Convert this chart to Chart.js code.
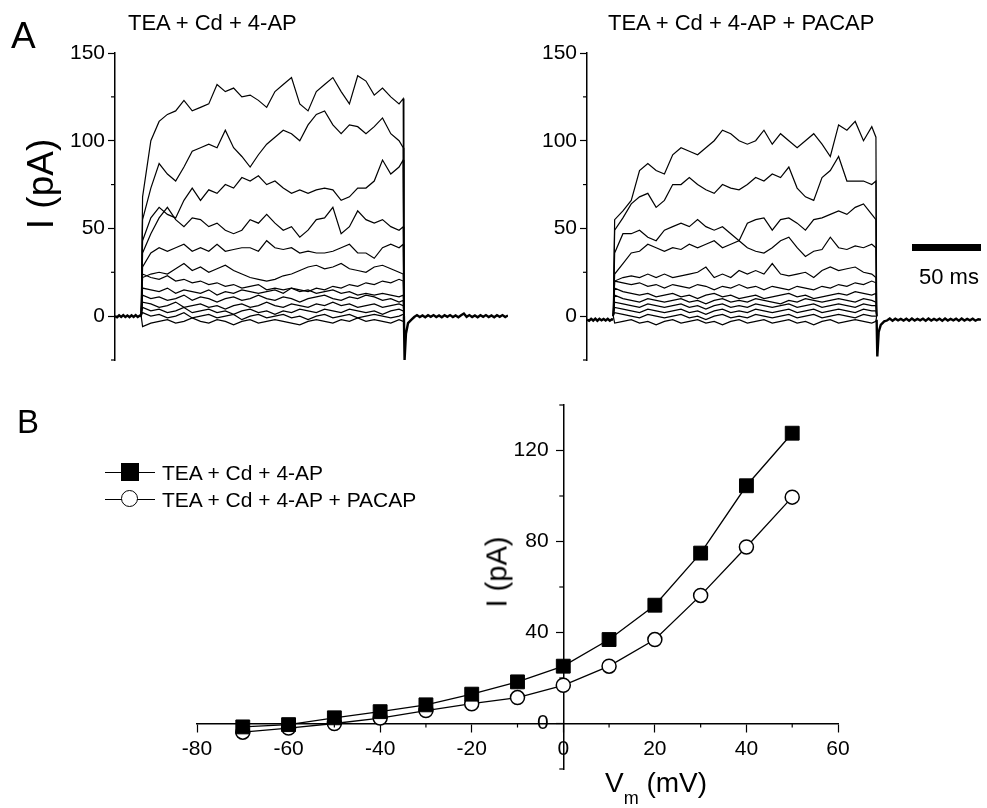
<!DOCTYPE html>
<html>
<head>
<meta charset="utf-8">
<script src="https://cdn.jsdelivr.net/npm/chart.js@4.4.1/dist/chart.umd.min.js"></script>
<style>
  body { margin: 0; background: #fff; }
  #fig { position: relative; width: 987px; height: 808px; overflow: hidden;
         font-family: "Liberation Sans", Arial, Helvetica, sans-serif; color: #000; }
  canvas { position: absolute; }
  .t { position: absolute; line-height: 1; white-space: nowrap; transform: translateY(-50%); }
  .rot { position: absolute; line-height: 1; white-space: nowrap; transform: translate(-50%, -50%) rotate(-90deg); }
  .leg-line { position: absolute; height: 0; border-top: 1.3px solid #000; }
</style>
</head>
<body>
<div id="fig">
  <canvas id="traceA" width="520" height="380" style="left:0;top:0"></canvas>
  <canvas id="traceB" width="447" height="380" style="left:540px;top:0"></canvas>
  <canvas id="ivPlot" width="987" height="428" style="left:0;top:380px"></canvas>

  <div class="t" style="left:11px;top:35px;font-size:37px">A</div>
  <div class="t" style="left:17px;top:421px;font-size:33px">B</div>
  <div class="t" style="left:128px;top:23px;font-size:22px">TEA + Cd + 4-AP</div>
  <div class="t" style="left:608px;top:23px;font-size:22px">TEA + Cd + 4-AP + PACAP</div>
  <div class="rot" style="left:40px;top:184px;font-size:37px">I (pA)</div>

  <div style="position:absolute;left:912px;top:244px;width:69px;height:7px;background:#000"></div>
  <div class="t" style="left:919px;top:277px;font-size:22px">50 ms</div>

  <div class="leg-line" style="left:105px;top:472px;width:50px"></div>
  <div style="position:absolute;left:121px;top:463px;width:18px;height:18px;background:#000"></div>
  <div class="t" style="left:162px;top:472px;font-size:21px">TEA + Cd + 4-AP</div>
  <div class="leg-line" style="left:105px;top:499px;width:50px"></div>
  <div style="position:absolute;left:121px;top:490px;width:15px;height:15px;border:1.5px solid #000;border-radius:50%;background:#fff"></div>
  <div class="t" style="left:162px;top:499px;font-size:21px">TEA + Cd + 4-AP + PACAP</div>

  <div class="rot" style="left:497px;top:572px;font-size:29px">I (pA)</div>
  <div class="t" style="left:605px;top:783px;font-size:28px">V<span style="font-size:18px;position:relative;top:12px">m</span> (mV)</div>
</div>

<script>
// ---- panel A: current traces (time in ms, current in pA) ----
var onsetTime = 19;
var offsetTime = 209.5;
var stepTimes = [20, 26, 32, 38, 44, 50, 56, 62, 68, 74, 80, 86, 92, 98, 104, 110, 116,
                 122, 128, 134, 140, 146, 152, 158, 164, 170, 176, 182, 188, 194, 200, 206, 209];
var preTimes = [0, 1.5, 3, 4.5, 6, 7.5, 9, 10.5, 12, 13.5, 15, 16.5, 18, 19];
var postTimes = [209.5, 210, 211, 212.5, 215, 217, 219, 221, 223, 225, 227, 229, 231, 233, 235, 237, 239, 241, 243, 245,
                 247, 249, 251, 253, 255, 257, 259, 261, 263, 265, 267, 269, 271, 273, 275, 277, 279, 281, 283, 285];

// TEA + Cd + 4-AP
var tea1 = [68, 100, 111, 115, 117, 123, 117, 119, 121, 132, 128, 130, 125, 126, 123, 119, 128, 132, 136, 121, 117, 128, 132, 136, 128, 121, 137, 134, 126, 130, 125, 121, 124];
var tea2 = [55, 73, 87, 81, 77, 85, 94, 96, 98, 96, 106, 96, 91, 85, 92, 98, 102, 106, 104, 100, 109, 115, 117, 109, 104, 109, 108, 104, 108, 113, 104, 100, 96];
var tea3 = [43, 56, 62, 58, 56, 66, 73, 66, 72, 70, 75, 73, 79, 77, 80, 75, 77, 73, 70, 72, 70, 72, 73, 72, 66, 68, 73, 73, 77, 89, 81, 85, 89];
var tea4 = [36, 47, 56, 62, 55, 51, 56, 55, 51, 53, 49, 47, 49, 55, 53, 58, 53, 49, 51, 45, 49, 55, 56, 62, 47, 51, 60, 55, 53, 55, 51, 49, 51];
var tea5 = [28, 36, 39, 37, 39, 41, 37, 39, 37, 41, 37, 38, 39, 39, 37, 43, 39, 38, 39, 36, 37, 36, 36, 37, 39, 41, 36, 36, 33, 39, 41, 39, 41];
var tea6 = [22, 24, 25, 24, 27, 30, 26, 28, 25, 27, 29, 26, 24, 22, 21, 20, 21, 23, 24, 26, 28, 29, 27, 28, 30, 27, 26, 25, 28, 29, 27, 25, 24];
var tea7 = [24, 22, 21, 23, 20, 21, 19, 20, 18, 19, 17, 18, 16, 17, 18, 15, 16, 15, 16, 14, 15, 13, 14, 15, 13, 14, 12, 13, 12, 13, 12, 11, 12];
var tea8 = [16, 15, 14, 16, 13, 15, 14, 13, 15, 12, 14, 13, 15, 14, 13, 14, 15, 13, 16, 15, 14, 16, 15, 17, 16, 18, 17, 19, 18, 20, 19, 21, 20];
var tea9 = [12, 10, 11, 9, 10, 12, 9, 11, 10, 8, 10, 11, 9, 10, 12, 10, 9, 11, 10, 8, 10, 11, 12, 10, 9, 11, 10, 12, 11, 9, 10, 8, 9];
var tea10 = [8, 7, 5, 6, 8, 5, 6, 7, 5, 6, 4, 6, 7, 5, 6, 8, 6, 5, 7, 6, 5, 7, 6, 8, 6, 7, 5, 6, 7, 5, 6, 7, 6];
var tea11 = [5, 3, 4, 2, 3, 5, 2, 3, 4, 2, 3, 1, 3, 4, 2, 3, 1, 3, 2, 4, 3, 2, 4, 3, 2, 4, 3, 2, 3, 1, 3, 4, 3];
var tea12 = [2, 0, 1, -1, 0, 2, -1, 0, 1, -1, 0, 1, -2, 0, 1, -1, 0, 1, -1, 0, -2, 0, 1, -1, 0, 1, -1, 0, 1, 0, -1, 0, 1];
var tea13 = [-6, -4, -3, -2, -4, -3, -1, -3, -4, -2, -3, -5, -3, -2, -4, -3, -2, -3, -4, -5, -3, -2, -3, -4, -2, -3, -1, -3, -2, -3, -4, -2, -3];
var teaPre = [0, -0.6, 0.5, -0.4, 0.6, -0.5, 0.4, -0.6, 0.5, -0.4, 0.6, -0.5, 0.3, 0];
var teaPost = [0, -25, -10, -4, -2, -0.5, 0.6, -0.5, 0.4, -0.6, 0.5, -0.4, 0.6, -0.5, 0.4, -0.6, 0.5, -0.4, 0.6, -0.5,
               0.4, -0.6, 0.5, 1.5, -0.4, 0.6, -0.5, 0.4, -0.6, 0.5, -0.4, 0.6, -0.5, 0.4, -0.6, 0.5, -0.4, 0.6, -0.5, 0.4];

// TEA + Cd + 4-AP + PACAP
var pac1 = [55, 60, 66, 83, 87, 83, 81, 92, 96, 94, 92, 96, 100, 106, 104, 100, 98, 100, 106, 98, 104, 100, 96, 100, 104, 98, 91, 109, 106, 111, 100, 108, 102];
var pac2 = [49, 56, 64, 68, 70, 62, 66, 75, 75, 79, 75, 72, 70, 75, 73, 72, 75, 79, 77, 81, 79, 85, 73, 68, 66, 79, 83, 91, 77, 77, 77, 75, 77];
var pac3 = [36, 47, 47, 49, 45, 43, 49, 51, 53, 51, 55, 51, 49, 51, 47, 43, 53, 55, 56, 49, 55, 56, 53, 49, 55, 56, 58, 60, 58, 62, 64, 58, 55];
var pac4 = [24, 30, 36, 37, 41, 39, 37, 39, 38, 41, 39, 41, 43, 39, 41, 43, 39, 37, 36, 39, 43, 45, 39, 34, 37, 38, 45, 39, 38, 40, 39, 41, 39];
var pac5 = [20, 22, 23, 22, 24, 22, 24, 22, 23, 24, 25, 28, 22, 24, 22, 26, 24, 26, 24, 30, 24, 23, 24, 25, 22, 26, 28, 26, 27, 28, 25, 24, 22];
var pac6 = [20, 19, 18, 19, 17, 18, 16, 18, 17, 16, 18, 17, 15, 17, 16, 18, 16, 17, 15, 17, 16, 15, 17, 16, 15, 17, 16, 18, 17, 19, 18, 20, 19];
var pac7 = [16, 14, 13, 12, 13, 11, 12, 13, 11, 12, 10, 12, 13, 11, 12, 10, 11, 12, 10, 11, 12, 13, 11, 12, 10, 11, 12, 13, 12, 14, 13, 12, 13];
var pac8 = [12, 10, 9, 8, 10, 9, 8, 9, 10, 8, 9, 7, 9, 10, 8, 9, 8, 10, 9, 8, 7, 9, 8, 10, 9, 8, 9, 10, 9, 8, 10, 9, 8];
var pac9 = [8, 7, 6, 5, 7, 6, 5, 6, 7, 5, 6, 4, 6, 7, 5, 6, 5, 7, 6, 5, 6, 7, 5, 6, 7, 5, 6, 7, 6, 5, 7, 6, 6];
var pac10 = [5, 4, 3, 2, 4, 3, 2, 3, 4, 2, 3, 1, 3, 4, 2, 3, 2, 4, 3, 2, 3, 4, 2, 3, 4, 2, 3, 4, 3, 2, 4, 3, 3];
var pac11 = [2, 1, 0, -1, 1, 0, -1, 0, 1, -1, 0, -2, 0, 1, -1, 0, -1, 1, 0, -1, 0, 1, -1, 0, 1, -1, 0, 1, 0, -1, 1, 0, 0];
var pac12 = [-4, -3, -2, -4, -3, -5, -3, -2, -4, -3, -2, -4, -3, -5, -3, -2, -4, -3, -2, -4, -3, -2, -4, -3, -5, -3, -2, -4, -3, -2, -3, -4, -3];
var pacPre = [-2, -2.6, -1.5, -2.5, -1.4, -2.6, -1.5, -2.4, -1.6, -2.5, -1.5, -2.6, -1.8, -2];
var pacPost = [-2, -23, -9, -5, -3, -2.5, -1.4, -2.6, -1.5, -2.4, -1.6, -2.5, -1.5, -2.6, -1.4, -2.5, -1.6, -2.4, -1.5, -2.6,
               -1.4, -2.5, -1.6, -2.4, -1.5, -2.6, -1.4, -2.5, -1.6, -2.4, -1.5, -2.6, -1.4, -2.5, -1.6, -2.4, -1.5, -2.6, -1.8, -2];

var traceTicks = [0, 50, 100, 150];

// ---- panel B: I-V relation ----
var vm = [-70, -60, -50, -40, -30, -20, -10, 0, 10, 20, 30, 40, 50];
var teaIV = [-1.5, -0.5, 2.5, 5.2, 8.2, 12.9, 18.3, 25.2, 36.9, 52, 74.9, 104.5, 127.6];
var pacapIV = [-3.8, -2, 0, 2.4, 5.7, 8.7, 11.4, 16.8, 25.2, 36.9, 56.3, 77.6, 99.5];

var FONT = '"Liberation Sans", Arial, Helvetica, sans-serif';

// short minor ticks, drawn after the chart
var minorTicks = {
  id: 'minorTicks',
  afterDraw: function (chart, args, opts) {
    var ctx = chart.ctx;
    ctx.save();
    ctx.strokeStyle = '#000';
    ctx.lineWidth = 1.2;
    (opts.axes || []).forEach(function (a) {
      var s = chart.scales[a.id];
      s.ticks.forEach(function (t) {
        if (Math.abs(t.value % a.major) < 1e-9) return;
        var p = s.getPixelForValue(t.value);
        ctx.beginPath();
        if (s.isHorizontal()) {
          var y0 = chart.scales[a.cross].getPixelForValue(0);
          ctx.moveTo(p, y0);
          ctx.lineTo(p, y0 + a.len);
        } else {
          var x0 = a.cross ? chart.scales[a.cross].getPixelForValue(0) : chart.chartArea.left;
          ctx.moveTo(x0, p);
          ctx.lineTo(x0 - a.len, p);
        }
        ctx.stroke();
      });
    });
    ctx.restore();
  }
};

function toPoints(times, vals) {
  return times.map(function (t, i) { return {x: t, y: vals[i]}; });
}

function traceChart(id, traces, pre, post, axisWidth, padRight) {
  var datasets = traces.map(function (vals) {
    return {
      data: [{x: onsetTime, y: 0}].concat(toPoints(stepTimes, vals), [{x: offsetTime, y: 0}]),
      borderColor: '#000', borderWidth: 1.2
    };
  });
  datasets.push({data: toPoints(preTimes, pre), borderColor: '#000', borderWidth: 2.4});
  datasets.push({data: toPoints(postTimes, post), borderColor: '#000', borderWidth: 2.4});

  return new Chart(document.getElementById(id), {
    type: 'line',
    data: {datasets: datasets},
    plugins: [minorTicks],
    options: {
      responsive: false,
      animation: false,
      devicePixelRatio: 1,
      layout: {padding: {top: 53, bottom: 20, right: padRight, left: 0}},
      elements: {point: {radius: 0}, line: {tension: 0}},
      plugins: {
        legend: {display: false},
        tooltip: {enabled: false},
        minorTicks: {axes: [{id: 'y', major: 50, len: 4}]}
      },
      scales: {
        x: {type: 'linear', min: 0, max: 285, display: false},
        y: {
          min: -25, max: 150,
          afterFit: function (s) { s.width = axisWidth; },
          border: {display: true, color: '#000', width: 1.5},
          grid: {
            drawOnChartArea: false, tickLength: 7, tickWidth: 1.2,
            tickColor: function (c) { return traceTicks.indexOf(c.tick.value) >= 0 ? '#000' : 'rgba(0,0,0,0)'; }
          },
          ticks: {
            stepSize: 25, padding: 3, color: '#000',
            font: {family: FONT, size: 21},
            callback: function (v) { return traceTicks.indexOf(v) >= 0 ? String(v) : ''; }
          }
        }
      }
    }
  });
}

traceChart('traceA', [tea1, tea2, tea3, tea4, tea5, tea6, tea7, tea8, tea9, tea10, tea11, tea12, tea13],
           teaPre, teaPost, 115, 12);
traceChart('traceB', [pac1, pac2, pac3, pac4, pac5, pac6, pac7, pac8, pac9, pac10, pac11, pac12],
           pacPre, pacPost, 47, 6);

new Chart(document.getElementById('ivPlot'), {
  type: 'line',
  data: {
    datasets: [
      {
        label: 'TEA + Cd + 4-AP',
        data: toPoints(vm, teaIV),
        borderColor: '#000', borderWidth: 1.3,
        pointStyle: 'rect', pointRadius: 9.8,
        pointBackgroundColor: '#000', pointBorderColor: '#000', pointBorderWidth: 1
      },
      {
        label: 'TEA + Cd + 4-AP + PACAP',
        data: toPoints(vm, pacapIV),
        borderColor: '#000', borderWidth: 1.3,
        pointStyle: 'circle', pointRadius: 7,
        pointBackgroundColor: '#fff', pointBorderColor: '#000', pointBorderWidth: 1.5
      }
    ]
  },
  plugins: [minorTicks],
  options: {
    responsive: false,
    animation: false,
    devicePixelRatio: 1,
    layout: {padding: {left: 197, right: 149, top: 25, bottom: 39}},
    elements: {line: {tension: 0}},
    plugins: {
      legend: {display: false},
      tooltip: {enabled: false},
      minorTicks: {axes: [
        {id: 'x', major: 20, len: 4, cross: 'y'},
        {id: 'y', major: 40, len: 4, cross: 'x'}
      ]}
    },
    scales: {
      x: {
        type: 'linear', min: -80, max: 60,
        position: {y: 0},
        border: {display: true, color: '#000', width: 1.5},
        grid: {
          drawOnChartArea: false, tickLength: 8, tickWidth: 1.2,
          tickColor: function (c) { return c.tick.value % 20 === 0 ? '#000' : 'rgba(0,0,0,0)'; }
        },
        ticks: {
          stepSize: 10, padding: 5, color: '#000', maxRotation: 0,
          font: {family: FONT, size: 21},
          callback: function (v) { return v % 20 === 0 ? String(v) : ''; }
        }
      },
      y: {
        min: -20, max: 140,
        position: {x: 0},
        border: {display: true, color: '#000', width: 1.5},
        grid: {
          drawOnChartArea: false, tickLength: 7, tickWidth: 1.2,
          tickColor: function (c) { return c.tick.value % 40 === 0 ? '#000' : 'rgba(0,0,0,0)'; }
        },
        ticks: {
          stepSize: 20, color: '#000',
          font: {family: FONT, size: 21},
          // labels sit right against the axis when it is placed at x = 0; trailing spaces keep the gap
          callback: function (v) { return v % 40 === 0 ? v + '\u2002\u2009' : ''; }
        }
      }
    }
  }
});
</script>
</body>
</html>
